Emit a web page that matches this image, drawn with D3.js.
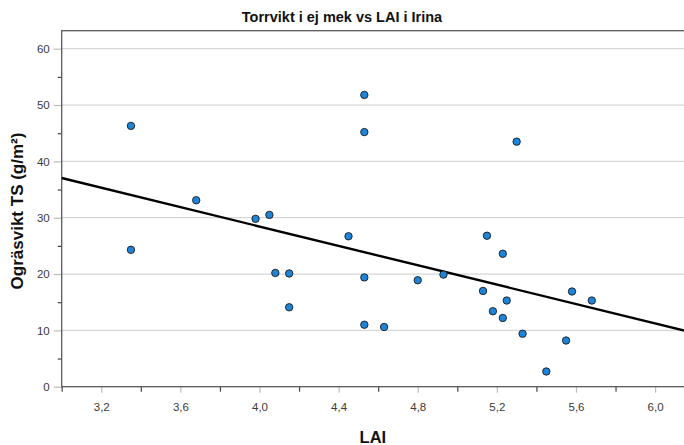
<!DOCTYPE html>
<html>
<head>
<meta charset="utf-8">
<script src="https://cdn.jsdelivr.net/npm/d3@7"></script>
<style>
  html, body { margin: 0; padding: 0; background: #fff; }
  svg { display: block; }
  text { font-family: "Liberation Sans", Arial, sans-serif; }
</style>
</head>
<body>
<svg id="chart" width="684" height="445"></svg>
<script>
// LAI (x) and weed dry weight (y) per plot
const lai = [3.35, 3.35, 3.68, 3.98, 4.05, 4.08, 4.15, 4.15, 4.45, 4.53, 4.53, 4.53, 4.53, 4.63,
             4.80, 4.93, 5.13, 5.15, 5.18, 5.23, 5.23, 5.25, 5.30, 5.33, 5.45, 5.55, 5.58, 5.68];
const weight = [46.3, 24.3, 33.1, 29.8, 30.5, 20.2, 20.1, 14.1, 26.7, 51.8, 45.2, 19.4, 11.0, 10.6,
                18.9, 19.9, 17.0, 26.8, 13.4, 23.6, 12.2, 15.3, 43.5, 9.4, 2.7, 8.2, 16.9, 15.3];
const xMajorTicks = [3.2, 3.6, 4.0, 4.4, 4.8, 5.2, 5.6, 6.0];
const xMinorTicks = [3.0, 3.4, 3.8, 4.2, 4.6, 5.0, 5.4, 5.8];
const yMajorTicks = [0, 10, 20, 30, 40, 50, 60];
const yMinorTicks = [5, 15, 25, 35, 45, 55];

const svg = d3.select("#chart");
const plotLeft = 61.7, plotRight = 686, plotTop = 30.7, plotBottom = 386.7;

const x = d3.scaleLinear().domain([3.0, 3.0 + (plotRight - plotLeft) / 197.8]).range([plotLeft, plotRight]);
const y = d3.scaleLinear().domain([0, (plotBottom - plotTop) / 5.633]).range([plotBottom, plotTop]);

const fmt = d => d3.format(".1f")(d).replace(".", ",");

// horizontal gridlines
svg.append("g").selectAll("line").data(yMajorTicks.filter(d => d > 0)).join("line")
  .attr("x1", plotLeft).attr("x2", plotRight)
  .attr("y1", d => y(d)).attr("y2", d => y(d))
  .attr("stroke", "#d6d6d6").attr("stroke-width", 1.2);

// y axis: major ticks (light) and minor ticks (dark)
const yAxisMajor = svg.append("g").attr("transform", `translate(${plotLeft},0)`)
  .call(d3.axisLeft(y).tickValues(yMajorTicks).tickSize(8).tickPadding(4).tickFormat(d3.format("d")));
yAxisMajor.select(".domain").remove();
yAxisMajor.selectAll(".tick line").attr("stroke", "#bdbdbd").attr("stroke-width", 1.2);
yAxisMajor.selectAll(".tick text").attr("fill", "#3a3a3a").style("font-size", "11.5px");

const yAxisMinor = svg.append("g").attr("transform", `translate(${plotLeft},0)`)
  .call(d3.axisLeft(y).tickValues(yMinorTicks).tickSize(4).tickFormat(""));
yAxisMinor.select(".domain").remove();
yAxisMinor.selectAll(".tick line").attr("stroke", "#444").attr("stroke-width", 1.2);

// x axis: major ticks (labelled, light) and minor ticks (dark)
const xAxisMajor = svg.append("g").attr("transform", `translate(0,${plotBottom})`)
  .call(d3.axisBottom(x).tickValues(xMajorTicks).tickSize(6).tickPadding(10).tickFormat(fmt));
xAxisMajor.select(".domain").remove();
xAxisMajor.selectAll(".tick line").attr("stroke", "#bdbdbd").attr("stroke-width", 1.2);
xAxisMajor.selectAll(".tick text").attr("fill", "#3a3a3a").style("font-size", "11.5px");

const xAxisMinor = svg.append("g").attr("transform", `translate(0,${plotBottom})`)
  .call(d3.axisBottom(x).tickValues(xMinorTicks).tickSize(5).tickFormat(""));
xAxisMinor.select(".domain").remove();
xAxisMinor.selectAll(".tick line").attr("stroke", "#444").attr("stroke-width", 1.2);

// plot frame
svg.append("rect")
  .attr("x", plotLeft).attr("y", plotTop)
  .attr("width", plotRight - plotLeft).attr("height", plotBottom - plotTop)
  .attr("fill", "none").attr("stroke", "#5a5a5a").attr("stroke-width", 1.3);

// least-squares fit line
const mx = d3.mean(lai), my = d3.mean(weight);
const sxy = d3.sum(lai, (v, i) => (v - mx) * (weight[i] - my));
const sxx = d3.sum(lai, v => (v - mx) * (v - mx));
const slope = sxy / sxx, intercept = my - slope * mx;
const [x0, x1] = x.domain();
svg.append("defs").append("clipPath").attr("id", "plot-clip")
  .append("rect").attr("x", plotLeft).attr("y", plotTop)
  .attr("width", plotRight - plotLeft).attr("height", plotBottom - plotTop);
svg.append("line")
  .attr("clip-path", "url(#plot-clip)")
  .attr("x1", x(x0)).attr("y1", y(intercept + slope * x0))
  .attr("x2", x(x1)).attr("y2", y(intercept + slope * x1))
  .attr("stroke", "#000").attr("stroke-width", 2.4);

// points
svg.append("g").selectAll("circle").data(lai).join("circle")
  .attr("cx", d => x(d))
  .attr("cy", (d, i) => y(weight[i]))
  .attr("r", 3.7)
  .attr("fill", "#1d84d8")
  .attr("stroke", "#1a1a1a").attr("stroke-width", 0.9);

// titles
svg.append("text")
  .attr("x", 342).attr("y", 22)
  .attr("text-anchor", "middle")
  .style("font-size", "14.5px").style("font-weight", "bold").attr("fill", "#111")
  .text("Torrvikt i ej mek vs LAI i Irina");

svg.append("text")
  .attr("x", (plotLeft + 684) / 2).attr("y", 443)
  .attr("text-anchor", "middle")
  .style("font-size", "16.5px").style("font-weight", "bold").attr("fill", "#111")
  .text("LAI");

svg.append("text")
  .attr("transform", "translate(23,211) rotate(-90)")
  .attr("text-anchor", "middle")
  .style("font-size", "17px").style("font-weight", "bold").attr("fill", "#111")
  .text("Ogräsvikt TS (g/m²)");
</script>
</body>
</html>
